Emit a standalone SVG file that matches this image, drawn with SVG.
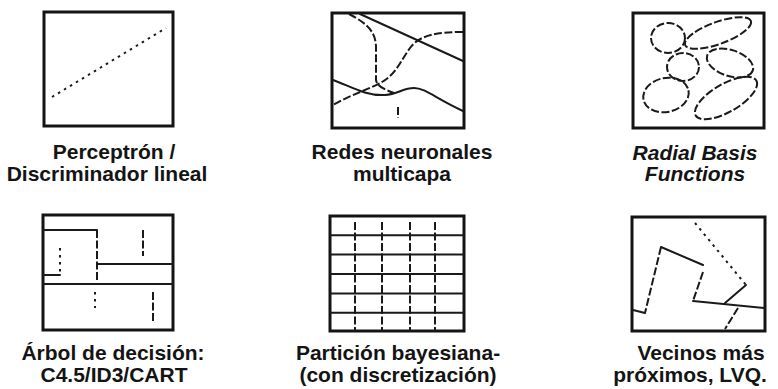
<svg xmlns="http://www.w3.org/2000/svg" width="778" height="389" viewBox="0 0 778 389">
  <style>
    .frame { fill: #fff; stroke: #141414; stroke-width: 3; }
    .solid { fill: none; stroke: #1a1a1a; stroke-width: 2; stroke-linecap: round; }
    .dash { fill: none; stroke: #1a1a1a; stroke-width: 2; stroke-dasharray: 8 2.5; }
    .dot { fill: none; stroke: #1a1a1a; stroke-width: 2; stroke-dasharray: 2.5 4.5; }
    .lbl { font-family: "Liberation Sans", Arial, Helvetica, sans-serif; font-size: 21px; font-weight: bold; text-anchor: middle; fill: #141414; }
    .ital { font-style: italic; }
  </style>
  <rect width="778" height="389" fill="#fff"/>

  <!-- Linear separator -->
  <g id="perceptron">
    <rect class="frame" x="44" y="12" width="129" height="114"/>
    <line class="dot" x1="52" y1="97" x2="166" y2="28"/>
    <text class="lbl" x="114" y="159">Perceptrón /</text>
    <text class="lbl" x="107" y="181">Discriminador lineal</text>
  </g>

  <!-- Multilayer network boundaries -->
  <g id="mlp">
    <rect class="frame" x="332" y="13" width="132" height="115"/>
    <line class="solid" x1="360" y1="14" x2="463" y2="61"/>
    <path class="dash" d="M349,14 C368,24 376,32 376,48 L376,80 C377,86 383,89 394,93"/>
    <path class="dash" d="M463,32 C440,32 420,34 410,48 C400,62 396,74 382,82 C370,89 350,95 333,105"/>
    <path class="solid" d="M333,80 C350,86 365,96 385,95 C398,94 403,88 414,88 C425,88 435,98 463,111"/>
    <line class="dash" x1="398" y1="107" x2="398" y2="118" stroke-dasharray="3 2"/>
    <text class="lbl" x="402" y="159">Redes neuronales</text>
    <text class="lbl" x="402" y="181">multicapa</text>
  </g>

  <!-- Radial basis receptive fields -->
  <g id="rbf">
    <rect class="frame" x="633" y="13" width="131" height="115"/>
    <ellipse class="dash" cx="668" cy="38" rx="17" ry="15"/>
    <ellipse class="dash" cx="718" cy="33" rx="35" ry="11" transform="rotate(-20 718 33)"/>
    <ellipse class="dash" cx="683" cy="67" rx="16" ry="14"/>
    <ellipse class="dash" cx="730" cy="63" rx="24" ry="13" transform="rotate(18 730 63)"/>
    <ellipse class="dash" cx="666" cy="95" rx="23" ry="17" transform="rotate(-12 666 95)"/>
    <ellipse class="dash" cx="726" cy="98" rx="35" ry="14" transform="rotate(-30 726 98)"/>
    <text class="lbl ital" x="695" y="160">Radial Basis</text>
    <text class="lbl ital" x="695" y="181">Functions</text>
  </g>

  <!-- Axis-parallel decision tree splits -->
  <g id="arbol">
    <rect class="frame" x="43" y="215" width="130" height="115"/>
    <line class="solid" x1="43" y1="230" x2="97" y2="230"/>
    <line class="dash" x1="97" y1="230" x2="97" y2="280" stroke-dasharray="24 9 8 20"/>
    <line class="solid" x1="97" y1="264" x2="173" y2="264"/>
    <line class="solid" x1="43" y1="284" x2="173" y2="284"/>
    <line class="solid" x1="43" y1="275" x2="60" y2="275"/>
    <line class="dot" x1="60" y1="248" x2="60" y2="275" stroke-width="1.6"/>
    <line class="dash" x1="143" y1="230" x2="143" y2="256" stroke-dasharray="4 3"/>
    <line class="dot" x1="95" y1="292" x2="95" y2="308" stroke-width="1.6"/>
    <line class="dash" x1="153" y1="292" x2="153" y2="322" stroke-dasharray="5 2"/>
    <text class="lbl" x="113" y="360">Árbol de decisión:</text>
    <text class="lbl" x="114" y="382">C4.5/ID3/CART</text>
  </g>

  <!-- Grid partition -->
  <g id="particion">
    <rect class="frame" x="330" y="216" width="134" height="115"/>
    <g class="solid">
      <line x1="330" y1="235.2" x2="464" y2="235.2"/>
      <line x1="330" y1="254.5" x2="464" y2="254.5"/>
      <line x1="330" y1="274" x2="464" y2="274"/>
      <line x1="330" y1="293.5" x2="464" y2="293.5"/>
      <line x1="330" y1="312.8" x2="464" y2="312.8"/>
    </g>
    <g class="dash" stroke-dasharray="6 13.2">
      <line x1="355" y1="222" x2="355" y2="331"/>
      <line x1="382" y1="222" x2="382" y2="331"/>
      <line x1="410" y1="222" x2="410" y2="331"/>
      <line x1="435" y1="222" x2="435" y2="331"/>
    </g>
    <text class="lbl" x="398" y="360">Partición bayesiana-</text>
    <text class="lbl" x="398" y="382">(con discretización)</text>
  </g>

  <!-- Nearest-neighbour (Voronoi) cells -->
  <g id="vecinos">
    <rect class="frame" x="632" y="217" width="133" height="114"/>
    <line class="dot" x1="695" y1="223" x2="746" y2="285"/>
    <line class="solid" x1="746" y1="285" x2="725" y2="303"/>
    <line class="solid" x1="693" y1="301" x2="764" y2="308"/>
    <line class="dash" x1="738" y1="308" x2="725" y2="329" stroke-dasharray="5 3"/>
    <line class="solid" x1="661" y1="247" x2="703" y2="265"/>
    <line class="dash" x1="703" y1="272" x2="693" y2="301" stroke-dasharray="6 3"/>
    <line class="dash" x1="661" y1="247" x2="645" y2="313" stroke-dasharray="6 3"/>
    <line class="solid" x1="633" y1="310" x2="645" y2="313"/>
    <text class="lbl" x="701" y="360">Vecinos más</text>
    <text class="lbl" x="690" y="382">próximos, LVQ.</text>
  </g>
</svg>
